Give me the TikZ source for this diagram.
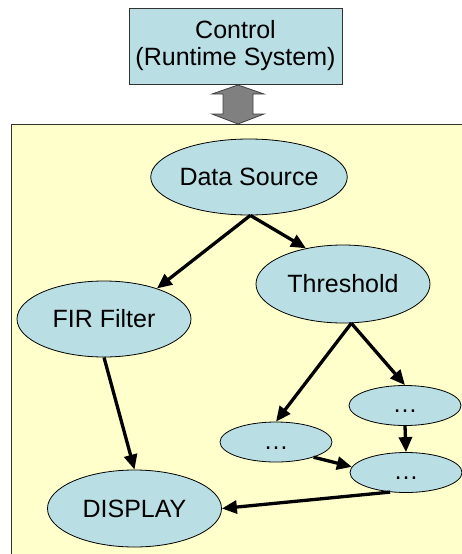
\documentclass[tikz,border=0pt]{standalone}
\usepackage{fontspec}
\setmainfont{Liberation Sans}
\usetikzlibrary{shapes.geometric,arrows.meta}

\definecolor{nodeblue}{RGB}{185,223,228}
\definecolor{panelyellow}{RGB}{255,255,204}
\definecolor{arrowgray}{RGB}{128,128,128}

\tikzset{
  blob/.style={ellipse, draw=black, line width=0.8pt, fill=nodeblue, inner sep=0pt,
               font=\fontsize{25}{28}\selectfont},
  bigblob/.style={blob, minimum width=174pt, minimum height=76pt},
  smallblob/.style={blob, minimum width=112pt, minimum height=40pt},
  flow/.style={line width=3.3pt, -{Triangle[length=15pt,width=13pt]}},
}
% ellipsis sitting a little below the middle of its node
\newcommand{\lowdots}{\rule{0pt}{14pt}\ldots}

\begin{document}
\begin{tikzpicture}[x=1pt,y=-1pt]
  \useasboundingbox (0,0) rectangle (462,554);
  \clip (0,0) rectangle (462,554);

  % application panel
  \draw[line width=1pt, draw=black!80, fill=panelyellow] (11,124) rectangle (480,570);

  % runtime control box
  \node[draw=black!80, line width=0.8pt, fill=nodeblue, minimum width=213pt, minimum height=76pt,
        align=center, font=\fontsize{25}{27}\selectfont] (ctl) at (235.5,46)
        {Control\\(Runtime System)};

  % two-way link between control and panel
  \coordinate (linktop) at (238,85);
  \coordinate (linkbot) at (238,124);
  \draw[line width=0.8pt, draw=black!75, fill=arrowgray]
    (linktop) -- (264,94) -- (253,94) -- (253,114) -- (264,114) -- (linkbot)
    -- (212,114) -- (223,114) -- (223,94) -- (212,94) -- cycle;

  % processing graph
  \node[bigblob] (ds)   at (249,177)   {Data Source};
  \node[bigblob, minimum height=78pt] (th) at (343,284) {Threshold};
  \node[bigblob] (fir)  at (104,319)   {FIR Filter};
  \node[bigblob, minimum height=77pt] (disp) at (134.5,508.5) {DISPLAY};
  \node[smallblob] (d1) at (276,442)   {\lowdots};
  \node[smallblob] (d2) at (405,405.5) {\lowdots};
  \node[smallblob] (d3) at (406,472.5) {\lowdots};

  \draw[flow] (ds.-88) -- (fir.30);
  \draw[flow] (ds.-88) -- (th.136);
  \draw[flow] (th.-78) -- (d1.north);
  \draw[flow] (th.-78) -- (d2.north);
  \draw[flow] (d2.south) -- (d3.north);
  \draw[flow] (d1.-22) -- (d3.174);
  \draw[flow] (d3.-129) -- (disp.east);
  \draw[flow] (fir.south) -- (disp.north);
\end{tikzpicture}
\end{document}
